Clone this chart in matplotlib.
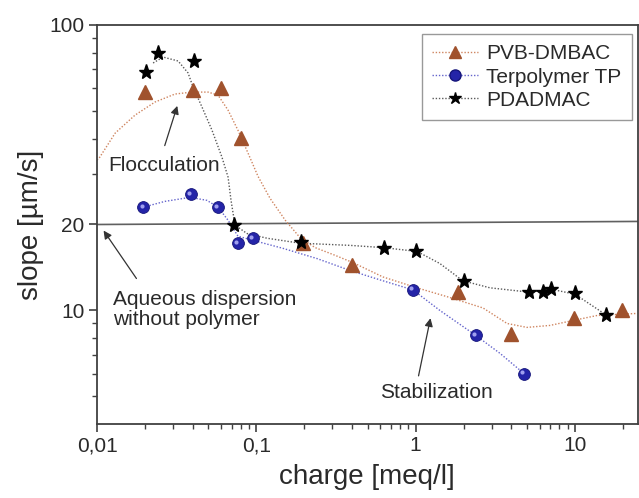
import matplotlib
matplotlib.use("Agg")
import matplotlib.pyplot as plt
from matplotlib.ticker import FixedLocator, FixedFormatter, NullFormatter
from matplotlib import transforms

plt.rcParams["font.family"] = ["Liberation Sans", "DejaVu Sans"]

# measured points
pvb_x = [0.020, 0.040, 0.060, 0.080, 0.197, 0.40, 1.85, 3.97, 9.87, 19.8]
pvb_y = [58.2, 59.1, 60.1, 40.1, 17.2, 14.4, 11.6, 8.24, 9.38, 10.0]

tp_x = [0.0195, 0.0389, 0.0575, 0.0767, 0.0953, 0.963, 2.39, 4.79]
tp_y = [23.0, 25.5, 23.0, 17.2, 17.9, 11.8, 8.17, 6.01]

pda_x = [0.0203, 0.0241, 0.0406, 0.0724, 0.191, 0.633, 1.0, 2.01, 5.15, 6.31, 7.08, 10.0, 15.7]
pda_y = [68.4, 79.8, 74.8, 19.9, 17.3, 16.6, 16.1, 12.7, 11.6, 11.6, 11.9, 11.5, 9.6]

# smoothed guide curves
pvb_fit_x = [0.0100, 0.0104, 0.0130, 0.0173, 0.0231, 0.0309, 0.0395, 0.0498, 0.0575,
             0.0665, 0.0767, 0.0887, 0.1025, 0.122, 0.152, 0.188, 0.234, 0.312, 0.405,
             0.624, 1.02, 1.64, 2.65, 3.75, 5.0, 6.98, 9.73, 13.8, 24.5]
pvb_fit_y = [33.6, 34.4, 41.8, 48.3, 53.7, 57.3, 58.2, 58.2, 56.8,
             50.3, 42.8, 35.6, 29.5, 24.7, 20.7, 18.0, 16.6, 15.6, 14.7,
             13.1, 12.0, 11.1, 10.2, 9.0, 8.72, 8.86, 9.22, 9.6, 9.76]

tp_fit_x = [0.0195, 0.0267, 0.0384, 0.0490, 0.0575, 0.0665, 0.0767, 0.0953, 0.147,
            0.240, 0.388, 0.624, 0.963, 1.42, 2.39, 3.39, 4.79]
tp_fit_y = [23.0, 24.1, 24.9, 24.3, 23.0, 20.7, 18.2, 17.6, 16.5,
            15.2, 13.8, 12.7, 11.8, 10.0, 8.17, 7.07, 6.01]

pda_fit_x = [0.0225, 0.0260, 0.0323, 0.0373, 0.0401, 0.0456, 0.0527, 0.0609, 0.0665,
             0.0694, 0.0735, 0.0874, 0.117, 0.188, 0.388, 0.624, 1.02, 1.42, 1.98,
             2.93, 5.08, 7.18, 10.0, 15.9]
pda_fit_y = [73.6, 77.2, 74.8, 67.9, 60.6, 51.6, 42.8, 34.4, 29.3,
             24.3, 19.9, 18.6, 17.9, 17.2, 16.9, 16.6, 16.1, 14.6, 12.7,
             12.0, 11.6, 11.85, 11.4, 9.6]

x_ticks = [0.01, 0.1, 1, 10]
x_labels = ["0,01", "0,1", "1", "10"]
y_ticks = [10, 20, 100]
y_labels = ["10", "20", "100"]

BROWN = "#a0522d"
BLUE = "#2424a8"
AX_COL = "#404040"
TXT = "#2a2a2a"
DOT = (0, (1, 1.3))

fig = plt.figure(figsize=(6.39, 4.98), dpi=100)
ax = fig.add_axes([0.1518, 0.1486, 0.8462, 0.8012])
ax.set_xscale("log")
ax.set_yscale("log")
ax.set_xlim(0.01, 24.8)
ax.set_ylim(4.0, 100)

# guide curves
ax.plot(pvb_fit_x, pvb_fit_y, ls=DOT, lw=1.0, color="#cf8560", zorder=2)
ax.plot(tp_fit_x, tp_fit_y, ls=DOT, lw=1.0, color="#6464cc", zorder=2)
ax.plot(pda_fit_x, pda_fit_y, ls=DOT, lw=1.0, color="#5a5a5a", zorder=2)

# reference line (dispersion without polymer)
ax.plot([0.01, 24.8], [20.0, 20.5], color="#606060", lw=1.2, zorder=1)

# markers
ax.plot(pvb_x, pvb_y, ls="none", marker="^", ms=9.5, color=BROWN, mec=BROWN, zorder=4)
ax.plot(tp_x, tp_y, ls="none", marker="o", ms=8.5, color=BLUE, mec="#15157a", mew=0.6, zorder=4)
hl = transforms.offset_copy(ax.transData, fig=fig, x=-1.2, y=1.2, units="points")
ax.plot(tp_x, tp_y, ls="none", marker="o", ms=3, color="#a0a0ee", mec="none",
        transform=hl, zorder=5)
ax.plot(pda_x, pda_y, ls="none", marker="*", ms=11, color="black", zorder=4)

# legend proxies
h1, = ax.plot([], [], ls=DOT, lw=1.0, color="#cf8560", marker="^", ms=9,
              mfc=BROWN, mec=BROWN, label="PVB-DMBAC")
h2, = ax.plot([], [], ls=DOT, lw=1.0, color="#6464cc", marker="o", ms=8,
              mfc=BLUE, mec="#15157a", label="Terpolymer TP")
h3, = ax.plot([], [], ls=DOT, lw=1.0, color="#5a5a5a", marker="*", ms=9,
              mfc="black", mec="black", label="PDADMAC")
leg = ax.legend(handles=[h1, h2, h3], loc="upper right", bbox_to_anchor=(0.9894, 0.9774),
                borderaxespad=0, fontsize=15, frameon=True, fancybox=False,
                handlelength=2.2, handletextpad=0.4, labelspacing=0.2,
                borderpad=0.5, numpoints=1)
leg.get_frame().set_edgecolor("#808080")
leg.get_frame().set_linewidth(1.0)
for t in leg.get_texts():
    t.set_color(TXT)

# annotations
ax.text(0.02653, 32.3, "Flocculation", fontsize=15, ha="center", va="center", color=TXT)
ax.annotate("", xy=(0.0323, 53.2), xytext=(0.0263, 37.0),
            arrowprops=dict(arrowstyle="-|>", color="#333333", lw=0.9, mutation_scale=12))

ax.text(0.0126, 10.08, "Aqueous dispersion\nwithout polymer", fontsize=15, ha="left",
        va="center", linespacing=1.05, color=TXT)
ax.annotate("", xy=(0.01075, 19.4), xytext=(0.01809, 12.7),
            arrowprops=dict(arrowstyle="-|>", color="#333333", lw=0.9, mutation_scale=12))

ax.text(1.343, 5.15, "Stabilization", fontsize=15, ha="center", va="center", color=TXT)
ax.annotate("", xy=(1.25, 9.6), xytext=(1.035, 5.77),
            arrowprops=dict(arrowstyle="-|>", color="#333333", lw=0.9, mutation_scale=12))

# axes and ticks
ax.xaxis.set_major_locator(FixedLocator(x_ticks))
ax.xaxis.set_major_formatter(FixedFormatter(x_labels))
ax.xaxis.set_minor_formatter(NullFormatter())
ax.yaxis.set_major_locator(FixedLocator(y_ticks))
ax.yaxis.set_major_formatter(FixedFormatter(y_labels))
ax.yaxis.set_minor_locator(FixedLocator([5, 6, 7, 8, 9, 30, 40, 50, 60, 70, 80, 90]))
ax.yaxis.set_minor_formatter(NullFormatter())

ax.tick_params(which="both", direction="out", colors=AX_COL, labelcolor=TXT,
               top=False, right=False)
ax.tick_params(which="major", length=6, width=1.2, labelsize=15, pad=3)
ax.tick_params(which="minor", length=3.5, width=1.0)
for sp in ax.spines.values():
    sp.set_color(AX_COL)
    sp.set_linewidth(1.3)

ax.set_xlabel("charge [meq/l]", fontsize=20, color=TXT, labelpad=6)
ax.set_ylabel("slope [µm/s]", fontsize=20, color=TXT, labelpad=4)

fig.savefig("out.png", dpi=100)
